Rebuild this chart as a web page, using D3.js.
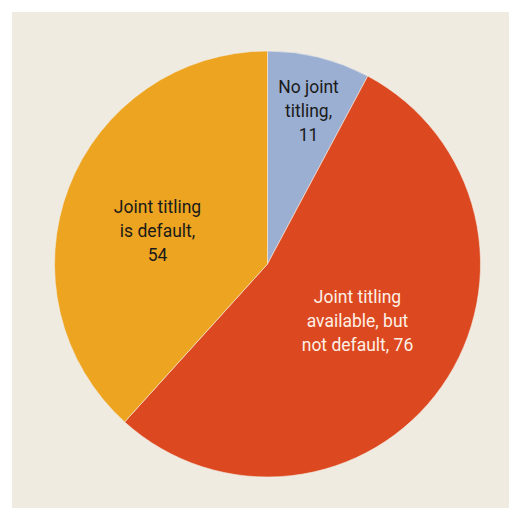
<!DOCTYPE html>
<html><head><meta charset="utf-8">
<script src="https://cdn.jsdelivr.net/npm/d3@7"></script>
<style>html,body{margin:0;padding:0;background:#fff;}svg{display:block;}</style>
</head><body>
<script>
const categories = ["No joint titling", "Joint titling available, but not default", "Joint titling is default"];
const values = [11, 76, 54];
const labelLines = [["No joint", "titling,", "11"], ["Joint titling", "available, but", "not default, 76"], ["Joint titling", "is default,", "54"]];
const colors = ["#9bafd3", "#dc481f", "#eca421"];
const textColors = ["#1a1a1a", "#fdf0e6", "#1a1a1a"];

const W = 509, H = 508;
const svg = d3.select("body").append("svg").attr("width", W).attr("height", H);
svg.append("rect").attr("x", 12).attr("y", 12).attr("width", W - 12).attr("height", H - 12).attr("fill", "#efebe1");

const cx = 267.5, cy = 264, R = 213;
const g = svg.append("g").attr("transform", `translate(${cx},${cy})`);
const data = categories.map((c, i) => ({c, v: values[i], i}));
const pie = d3.pie().value(d => d.v).sort(null);
const arc = d3.arc().innerRadius(0).outerRadius(R);
const arcs = pie(data);
g.selectAll("path").data(arcs).join("path")
  .attr("d", arc).attr("fill", d => colors[d.data.i])
  .attr("stroke", "#f3efe6").attr("stroke-width", 0.6);

// label anchor positions (relative to center), from the reference
const labelPos = [[41, -171], [90, 39], [-110, -51]];
const lh = 24;
arcs.forEach((a, k) => {
  const i = a.data.i;
  const t = g.append("text")
    .attr("text-anchor", "middle")
    .attr("fill", textColors[i])
    .style("font-family", "'Roboto', sans-serif")
    .style("font-size", "17.5px");
  labelLines[i].forEach((line, j) => {
    t.append("tspan").attr("x", labelPos[i][0]).attr("y", labelPos[i][1] + j * lh).text(line);
  });
});
</script>
</body></html>
